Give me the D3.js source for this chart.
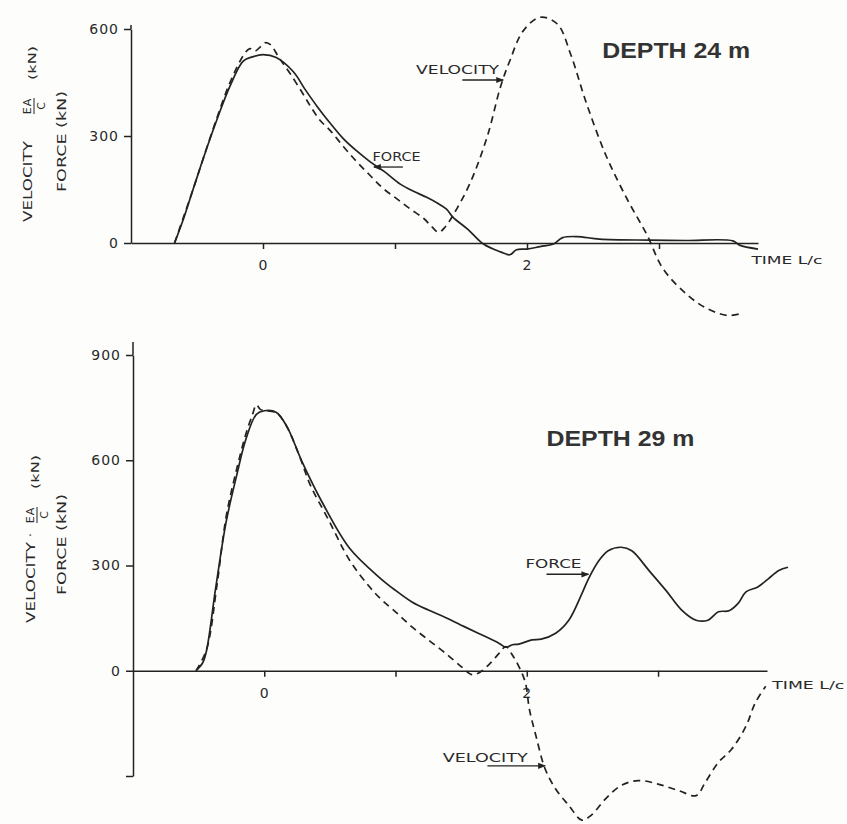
<!DOCTYPE html>
<html>
<head>
<meta charset="utf-8">
<script src="https://cdn.jsdelivr.net/npm/d3@7"></script>
<style>
body { margin: 0; background: #fdfdfb; }
svg { display: block; }
text { fill: #2a2a2a; font-family: "DejaVu Sans", sans-serif; }
</style>
</head>
<body>
<svg id="chart"></svg>
<script>
// time in L/c, values in kN
var force24 = [[-0.67,0],[-0.6,70],[-0.53,150],[-0.45,240],[-0.35,345],[-0.25,440],[-0.15,510],[-0.08,522],[0,528],
  [0.1,520],[0.23,480],[0.32,430],[0.41,383],[0.5,340],[0.61,292],[0.71,258],[0.81,228],[0.92,200],[1.04,165],
  [1.14,145],[1.24,128],[1.32,112],[1.39,95],[1.44,72],[1.55,39],[1.67,-3],[1.8,-25],[1.87,-33],[1.92,-19],
  [2.0,-17],[2.1,-10],[2.2,-3],[2.27,15],[2.38,18],[2.55,11],[2.93,8],[3.2,7],[3.56,6],[3.61,-6],[3.75,-17]];
var velocity24 = [[-0.67,0],[-0.6,75],[-0.53,150],[-0.45,240],[-0.35,350],[-0.25,450],[-0.15,525],[-0.1,545],
  [-0.06,538],[-0.02,550],[0.02,562],[0.06,555],[0.12,520],[0.2,478],[0.3,420],[0.36,383],[0.43,345],[0.51,315],
  [0.61,270],[0.71,228],[0.81,190],[0.91,153],[1.01,125],[1.11,97],[1.22,68],[1.28,45],[1.33,30],[1.38,45],
  [1.44,78],[1.57,169],[1.7,300],[1.8,439],[1.87,511],[1.97,594],[2.1,633],[2.23,614],[2.33,530],[2.45,392],
  [2.6,244],[2.76,122],[2.91,22],[3.03,-72],[3.21,-144],[3.36,-183],[3.52,-203],[3.63,-197]];
var force29 = [[-0.52,0],[-0.47,22],[-0.44,57],[-0.37,236],[-0.29,425],[-0.21,557],[-0.14,660],[-0.06,731],
  [0,741],[0.09,737],[0.17,698],[0.29,594],[0.44,481],[0.65,349],[0.88,265],[1.0,229],[1.125,196],[1.25,173],
  [1.38,152],[1.5,130],[1.63,107],[1.79,78],[1.84,67],[1.89,74],[1.94,76],[2.04,88],[2.11,90],[2.22,107],
  [2.32,144],[2.42,220],[2.47,262],[2.55,314],[2.62,342],[2.72,352],[2.8,342],[2.93,286],[3.06,229],[3.18,173],
  [3.29,144],[3.38,144],[3.46,168],[3.54,171],[3.61,192],[3.67,225],[3.76,239],[3.84,262],[3.92,286],[3.99,295]];
var velocity29 = [[-0.52,0],[-0.44,60],[-0.36,245],[-0.29,440],[-0.21,575],[-0.14,675],[-0.09,730],[-0.06,758],
  [-0.03,745],[0,742],[0.09,736],[0.17,697],[0.27,610],[0.35,530],[0.49,430],[0.65,315],[0.8,240],[0.9,200],
  [1.0,168],[1.125,125],[1.25,88],[1.38,50],[1.5,12],[1.58,-11],[1.63,-7],[1.71,17],[1.79,50],[1.84,69],
  [1.89,45],[1.94,12],[1.99,-35],[2.02,-110],[2.07,-186],[2.14,-280],[2.22,-337],[2.32,-384],[2.42,-426],
  [2.49,-412],[2.6,-365],[2.72,-327],[2.85,-313],[3.0,-323],[3.16,-342],[3.29,-356],[3.36,-318],[3.46,-261],
  [3.56,-224],[3.67,-158],[3.74,-92],[3.82,-44]];

var yTicks24 = [0, 300, 600];
var yTicks29 = [-300, 0, 300, 600, 900];
var xTicks = [0, 1, 2, 3];
var xTickLabels = [0, 2];
var depthTitles = ["DEPTH 24 m", "DEPTH 29 m"];

var width = 847, height = 824;
var ink = "#222";

var svg = d3.select("#chart")
    .attr("width", width)
    .attr("height", height);

svg.append("defs").append("marker")
    .attr("id", "head")
    .attr("viewBox", "0 0 10 10")
    .attr("refX", 9).attr("refY", 5)
    .attr("markerWidth", 6).attr("markerHeight", 6)
    .attr("orient", "auto")
  .append("path")
    .attr("d", "M0,1 L10,5 L0,9 Z")
    .attr("fill", ink);

var panels = [
  { force: force24, velocity: velocity24, yTicks: yTicks24, title: depthTitles[0],
    xDomain: [-1, 3.75], xRange: [131, 758], yDomain: [0, 600], yRange: [243, 29], yTop: 25,
    titleAt: [2.57, 519], timeAt: [3.7, -48], timeLen: 71,
    velLabel: { at: [1.16, 485], len: 83, size: 12, from: [1.51, 457], to: [1.82, 457] },
    forceLabel: { at: [0.83, 241], len: 48, size: 12, from: [1.06, 213], to: [0.84, 213] },
    yLabel: { x1: 28, b1: 222, x2: 62, b2: 192, dot: false } },
  { force: force29, velocity: velocity29, yTicks: yTicks29, title: depthTitles[1],
    xDomain: [-1, 3.83], xRange: [133, 767], yDomain: [-300, 900], yRange: [776, 355], yTop: 342,
    titleAt: [2.15, 640], timeAt: [3.87, -43], timeLen: 72,
    velLabel: { at: [1.36, -246], len: 85, size: 13, from: [1.70, -271], to: [2.14, -271] },
    forceLabel: { at: [1.99, 307], len: 56, size: 13, from: [2.15, 275], to: [2.47, 275] },
    yLabel: { x1: 31, b1: 623, x2: 62, b2: 595, dot: true } }
];

panels.forEach(function(p) {
  var x = d3.scaleLinear().domain(p.xDomain).range(p.xRange);
  var y = d3.scaleLinear().domain(p.yDomain).range(p.yRange);
  var g = svg.append("g");

  // axes
  var yAxis = d3.axisLeft(y)
      .tickValues(p.yTicks)
      .tickSize(7).tickSizeOuter(0).tickPadding(5)
      .tickFormat(function(d) { return d < 0 ? "" : d; });
  var yG = g.append("g")
      .attr("transform", "translate(" + p.xRange[0] + ",0)")
      .call(yAxis);
  // the drawn axis runs a little past its top tick
  yG.append("line")
      .attr("x1", 0).attr("x2", 0)
      .attr("y1", p.yTop).attr("y2", p.yRange[1]);

  var xAxis = d3.axisBottom(x)
      .tickValues(xTicks)
      .tickSize(6).tickSizeOuter(0).tickPadding(11)
      .tickFormat(function(d) { return xTickLabels.indexOf(d) >= 0 ? d : ""; });
  var xG = g.append("g")
      .attr("transform", "translate(0," + y(0) + ")")
      .call(xAxis);

  [yG, xG].forEach(function(a) {
    a.selectAll("path, line").attr("stroke", ink).attr("stroke-width", 1.5);
    a.selectAll("text")
        .attr("fill", "#2a2a2a")
        .style("font-family", "'DejaVu Sans', sans-serif")
        .style("font-size", "14px")
        .style("letter-spacing", "1px");
  });

  // traces
  var line = d3.line()
      .x(function(d) { return x(d[0]); })
      .y(function(d) { return y(d[1]); })
      .curve(d3.curveCatmullRom.alpha(0.5));

  g.append("path")
      .datum(p.force)
      .attr("d", line)
      .attr("fill", "none")
      .attr("stroke", ink)
      .attr("stroke-width", 1.7);

  g.append("path")
      .datum(p.velocity)
      .attr("d", line)
      .attr("fill", "none")
      .attr("stroke", ink)
      .attr("stroke-width", 1.7)
      .attr("stroke-dasharray", "7 5");

  // curve labels with arrows
  [["VELOCITY", p.velLabel], ["FORCE", p.forceLabel]].forEach(function(l) {
    var s = l[1];
    g.append("text")
        .attr("x", x(s.at[0]))
        .attr("y", y(s.at[1]))
        .attr("dominant-baseline", "central")
        .attr("textLength", s.len)
        .attr("lengthAdjust", "spacingAndGlyphs")
        .style("font-size", s.size + "px")
        .text(l[0]);
    g.append("line")
        .attr("x1", x(s.from[0])).attr("y1", y(s.from[1]))
        .attr("x2", x(s.to[0])).attr("y2", y(s.to[1]))
        .attr("stroke", ink)
        .attr("stroke-width", 1.3)
        .attr("marker-end", "url(#head)");
  });

  g.append("text")
      .attr("x", x(p.timeAt[0]))
      .attr("y", y(p.timeAt[1]))
      .attr("dominant-baseline", "central")
      .attr("textLength", p.timeLen)
      .attr("lengthAdjust", "spacingAndGlyphs")
      .style("font-size", "11px")
      .text("TIME L/c");

  g.append("text")
      .attr("x", x(p.titleAt[0]))
      .attr("y", y(p.titleAt[1]))
      .attr("textLength", 148)
      .attr("lengthAdjust", "spacingAndGlyphs")
      .style("font-family", "'Liberation Sans', Arial, sans-serif")
      .style("font-weight", "bold")
      .style("font-size", "22px")
      .style("fill", "#333")
      .text(p.title);

  // rotated y label: VELOCITY . EA/C (kN) over FORCE (kN)
  var yl = p.yLabel;
  var c1 = g.append("g")
      .attr("transform", "translate(" + yl.x1 + "," + yl.b1 + ") rotate(-90)")
      .style("font-size", "12px");
  c1.append("text").attr("x", 0).attr("y", 0)
      .attr("dominant-baseline", "central")
      .attr("textLength", 81).attr("lengthAdjust", "spacingAndGlyphs")
      .text("VELOCITY");
  if (yl.dot) {
    c1.append("text").attr("x", 86).attr("y", 0)
        .attr("dominant-baseline", "central").text("·");
  }
  var fx = yl.dot ? 108 : 116;
  c1.append("text").attr("x", fx).attr("y", -1)
      .attr("text-anchor", "middle").attr("dominant-baseline", "central")
      .style("font-size", "11px").style("letter-spacing", "1px")
      .text("EA");
  c1.append("line")
      .attr("x1", fx - 8).attr("x2", fx + 8)
      .attr("y1", 6).attr("y2", 6)
      .attr("stroke", ink).attr("stroke-width", 1);
  c1.append("text").attr("x", fx).attr("y", 13)
      .attr("text-anchor", "middle").attr("dominant-baseline", "central")
      .style("font-size", "11px")
      .text("C");
  c1.append("text").attr("x", fx + 26).attr("y", 4)
      .attr("dominant-baseline", "central")
      .attr("textLength", 34).attr("lengthAdjust", "spacingAndGlyphs")
      .style("font-size", "11px")
      .text("(kN)");

  g.append("text")
      .attr("transform", "translate(" + yl.x2 + "," + yl.b2 + ") rotate(-90)")
      .attr("dominant-baseline", "central")
      .attr("textLength", 101).attr("lengthAdjust", "spacingAndGlyphs")
      .style("font-size", "12px")
      .text("FORCE (kN)");
});
</script>
</body>
</html>
